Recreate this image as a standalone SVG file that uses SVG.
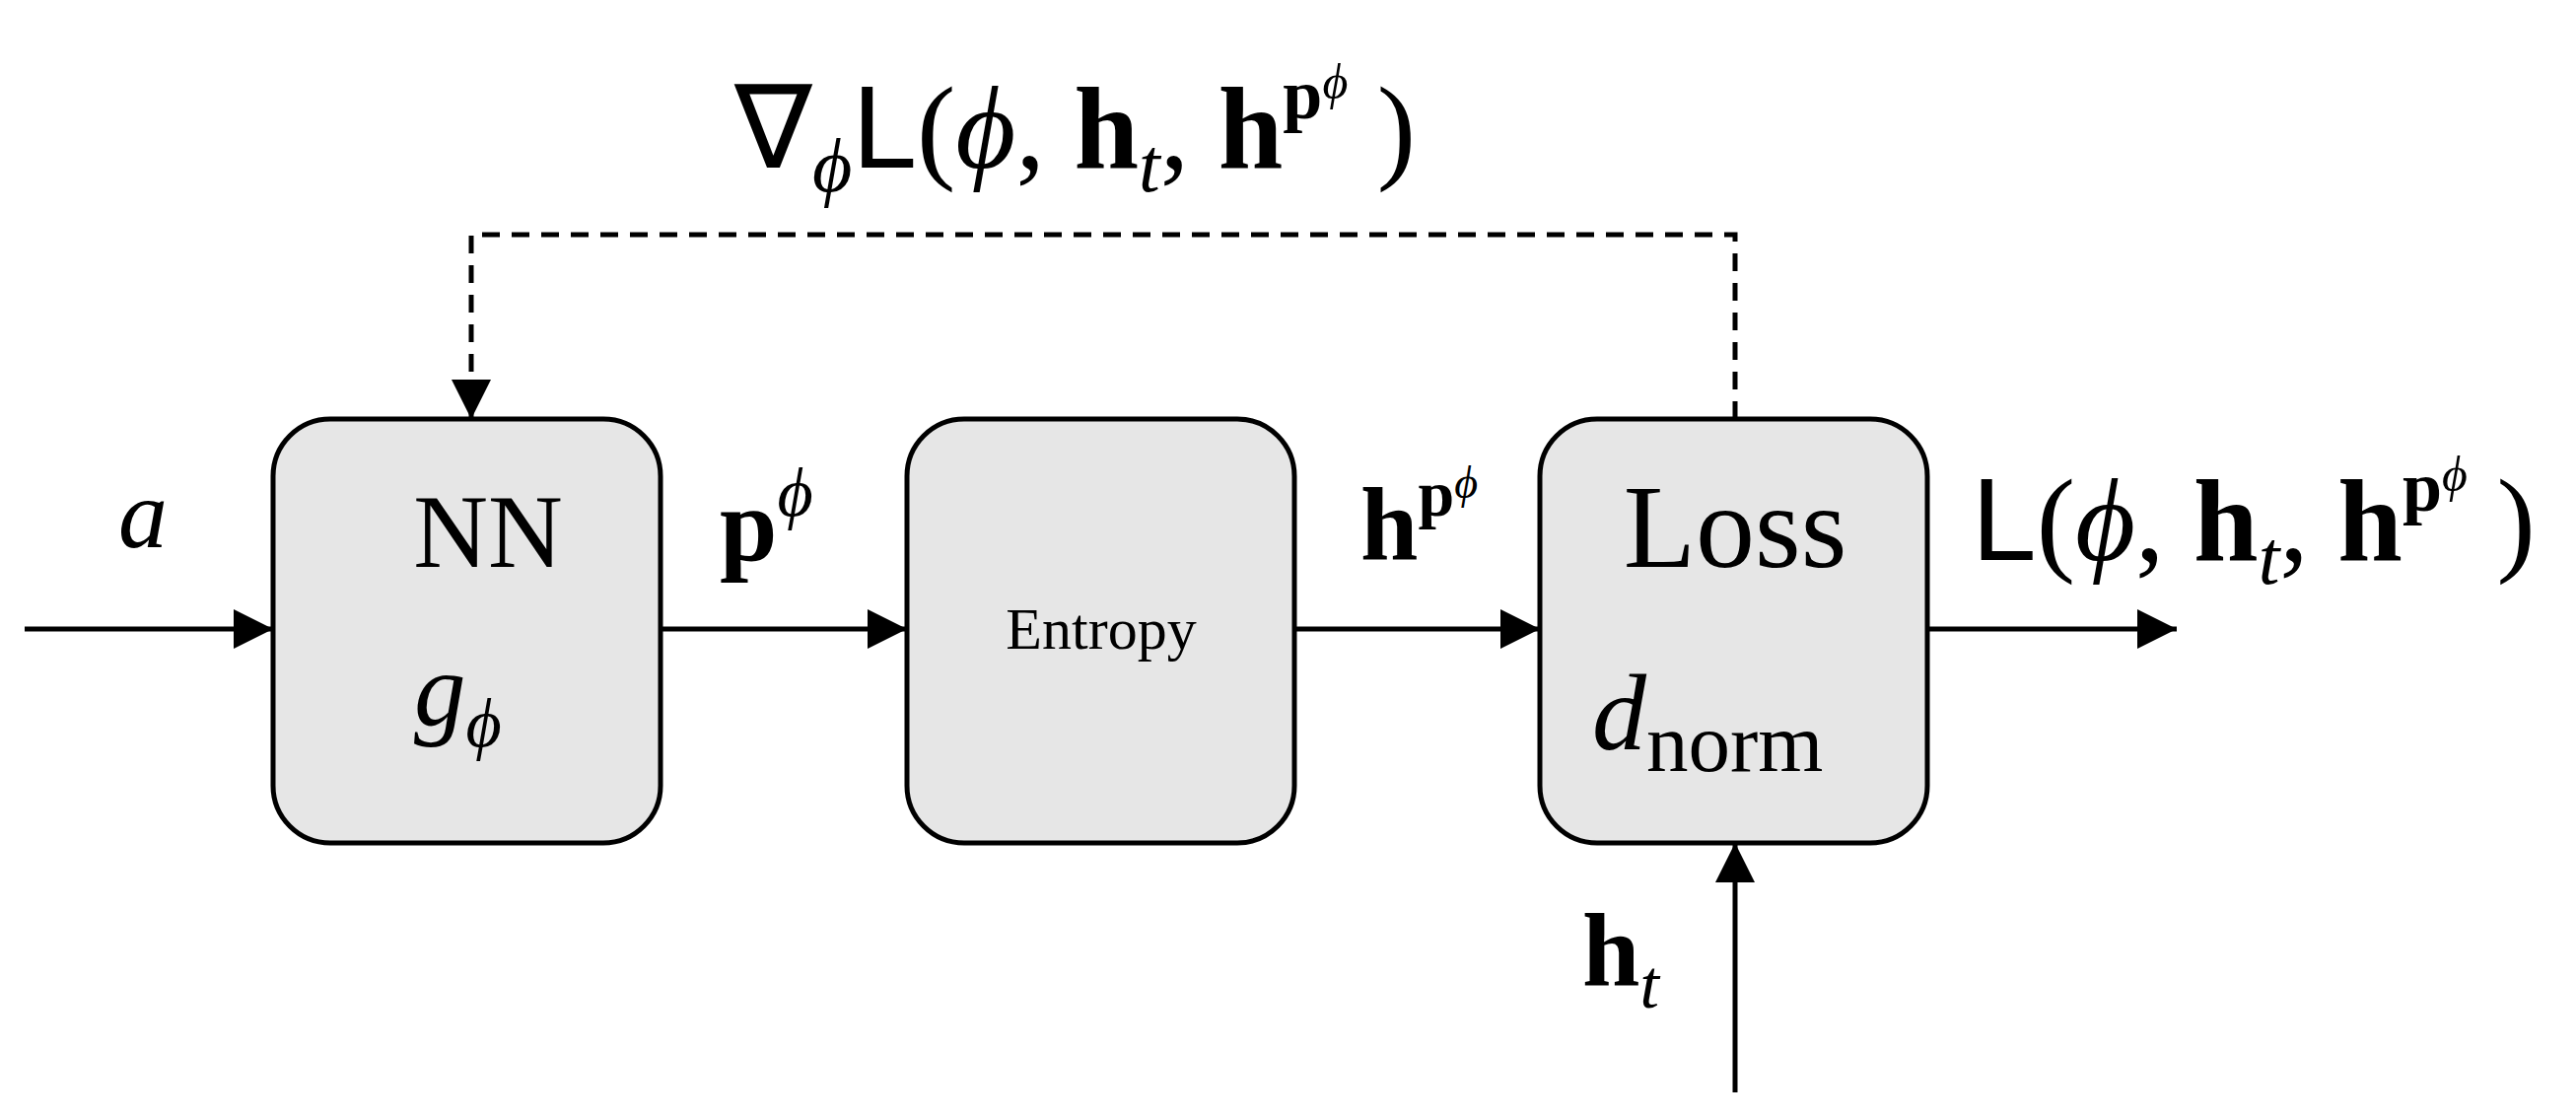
<svg xmlns="http://www.w3.org/2000/svg" width="2613" height="1135" viewBox="0 0 2613 1135">
<style>
.box{fill:#e6e6e6;stroke:#000;stroke-width:5}
.ln{stroke:#000;stroke-width:5;fill:none}
.serif{font-family:"Liberation Serif",serif;fill:#000}
.sans{font-family:"Liberation Sans",sans-serif;fill:#000}
</style>
<defs>
<marker id="a" viewBox="0 0 10 10" refX="10" refY="5" markerWidth="40" markerHeight="40" markerUnits="userSpaceOnUse" orient="auto"><path d="M0,0 L10,5 L0,10 z" fill="#000"/></marker>
</defs>
<rect width="2613" height="1135" fill="#fff"/>
<g id="connectors">
<line class="ln" x1="25" y1="638" x2="277" y2="638" marker-end="url(#a)"/>
<line class="ln" x1="670" y1="638" x2="920" y2="638" marker-end="url(#a)"/>
<line class="ln" x1="1313" y1="638" x2="1562" y2="638" marker-end="url(#a)"/>
<line class="ln" x1="1955" y1="638" x2="2208" y2="638" marker-end="url(#a)"/>
<line class="ln" x1="1760" y1="1108" x2="1760" y2="855" marker-end="url(#a)"/>
<polyline class="ln" stroke-dasharray="18,12" points="1760,425 1760,238 478,238 478,425" marker-end="url(#a)"/>
</g>
<g id="nn"><rect class="box" x="277" y="425" width="393" height="430" rx="58"/>
<text class="serif" x="495" y="575" font-size="105" text-anchor="middle">NN</text>
<text class="serif" x="420" y="735" font-size="105" font-style="italic">g<tspan font-size="70" dy="22">ϕ</tspan></text></g>
<g id="entropy"><rect class="box" x="920" y="425" width="393" height="430" rx="58"/>
<text class="serif" x="1117" y="658" font-size="60" text-anchor="middle">Entropy</text></g>
<g id="loss"><rect class="box" x="1562" y="425" width="393" height="430" rx="58"/>
<text class="serif" x="1760" y="575" font-size="120" text-anchor="middle">Loss</text>
<text class="serif" x="1615" y="760" font-size="110"><tspan font-style="italic">d</tspan><tspan font-size="85" dy="22">norm</tspan></text></g>
<g id="labels">
<text class="serif" x="120" y="555" font-size="100" font-style="italic">a</text>
<text class="serif" x="730" y="568" font-size="105" font-weight="bold">p<tspan font-size="70" dy="-45" font-weight="normal" font-style="italic">ϕ</tspan></text>
<text class="serif" x="1380" y="568" font-size="105" font-weight="bold">h<tspan font-size="66" dy="-45">p</tspan><tspan font-size="46" dy="-18" font-weight="normal" font-style="italic">ϕ</tspan></text>
<text class="serif" x="2000" y="568" font-size="118"><tspan class="sans">L</tspan>(<tspan font-style="italic">ϕ</tspan>, <tspan font-weight="bold">h</tspan><tspan font-size="78" dy="24" font-style="italic">t</tspan><tspan dy="-24">, </tspan><tspan font-weight="bold">h</tspan><tspan font-size="72" dy="-50" font-weight="bold">p</tspan><tspan font-size="50" dy="-20" font-style="italic">ϕ</tspan><tspan dy="70"> )</tspan></text>
<text class="serif" x="1605" y="1000" font-size="105"><tspan font-weight="bold">h</tspan><tspan font-size="70" dy="22" font-style="italic">t</tspan></text>
<text class="serif" x="745" y="170" font-size="118">∇<tspan font-size="78" dy="24" font-style="italic">ϕ</tspan><tspan dy="-24" class="sans">L</tspan>(<tspan font-style="italic">ϕ</tspan>, <tspan font-weight="bold">h</tspan><tspan font-size="78" dy="24" font-style="italic">t</tspan><tspan dy="-24">, </tspan><tspan font-weight="bold">h</tspan><tspan font-size="72" dy="-50" font-weight="bold">p</tspan><tspan font-size="50" dy="-20" font-style="italic">ϕ</tspan><tspan dy="70"> )</tspan></text>
</g>
</svg>
